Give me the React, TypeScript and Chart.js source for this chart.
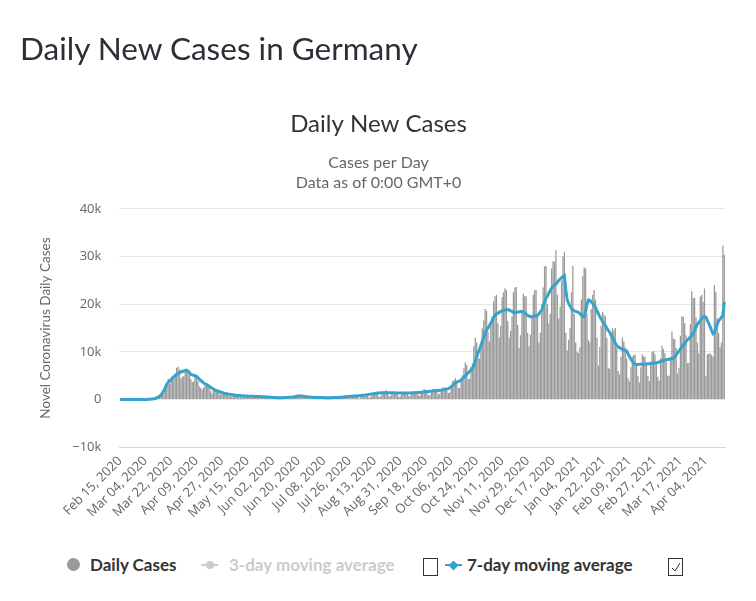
import React, { useEffect, useRef } from 'react';
import { Chart, registerables } from 'chart.js';

Chart.register(...registerables);

// Daily categories: Feb 15, 2020 .. Apr 17, 2021
const START_YEAR = 2020;
const START_MONTH = 1; // February (0-based)
const START_DAY = 15;
const MONTHS = ['Jan', 'Feb', 'Mar', 'Apr', 'May', 'Jun', 'Jul', 'Aug', 'Sep', 'Oct', 'Nov', 'Dec'];
const TICK_EVERY = 18;

// Daily new cases (one row per week, Saturday first)
const dailyCases = [
  0, 0, 0, 0, 0, 0, 0,
  0, 0, 0, 2, 10, 19, 2,
  22, 70, 28, 46, 50, 107, 256,
  130, 166, 130, 248, 409, 800, 693,
  900, 1000, 1200, 1500, 2800, 2900, 4400,
  3300, 4200, 4100, 4400, 5500, 6700, 6900,
  6300, 4400, 4800, 4900, 6000, 6500, 6200,
  5300, 4300, 3700, 3800, 5000, 4900, 3900,
  2800, 2500, 2100, 2500, 2900, 3400, 3100,
  2500, 1800, 1300, 1800, 2200, 2300, 2000,
  1500, 1000, 1200, 1300, 1500, 1600, 1200,
  900, 700, 700, 1100, 1200, 1100, 900,
  700, 500, 600, 900, 800, 900, 600,
  580, 350, 400, 600, 750, 460, 640,
  430, 300, 400, 360, 500, 740, 620,
  330, 220, 220, 340, 400, 500, 400,
  300, 150, 300, 320, 550, 560, 400,
  250, 200, 200, 350, 600, 770, 600,
  1000, 650, 500, 500, 600, 580, 480,
  400, 250, 300, 400, 500, 450, 400,
  350, 200, 300, 400, 450, 450, 400,
  350, 150, 250, 400, 550, 500, 500,
  400, 250, 350, 500, 600, 800, 800,
  750, 300, 350, 650, 900, 900, 950,
  800, 250, 500, 800, 900, 1100, 1100,
  1000, 450, 550, 1200, 1300, 1450, 1450,
  1400, 600, 700, 1350, 1500, 1700, 2000,
  1600, 800, 700, 1500, 1600, 1500, 1600,
  1400, 600, 700, 1200, 1400, 1500, 1600,
  1400, 800, 750, 1500, 1500, 1800, 1600,
  1500, 850, 900, 1400, 2000, 2200, 1900,
  1800, 900, 900, 1800, 2200, 2100, 2200,
  2100, 1100, 1300, 2000, 2600, 2500, 2600,
  1800, 1400, 1500, 2600, 3900, 4100, 4500,
  3200, 2500, 2400, 4100, 5100, 6600, 7800,
  7200, 4300, 4400, 6900, 7600, 11200, 13000,
  12000, 8700, 8600, 11400, 14900, 16600, 19000,
  18600, 14200, 12200, 15300, 17500, 20600, 21700,
  22000, 16000, 13000, 15500, 21500, 22500, 23300,
  23000, 16500, 13000, 14400, 17500, 22500, 23500,
  23600, 15700, 10900, 13500, 18600, 22200, 21700,
  21700, 14000, 11200, 13600, 17200, 22000, 23000,
  23000, 17700, 12000, 14000, 20000, 23500, 27900,
  28000, 20000, 16000, 18000, 27500, 29000, 28900,
  31300, 22000, 17000, 19500, 25000, 30000, 31000,
  14000, 10300, 12500, 15000, 22500, 28000, 18000,
  12000, 10000, 9800, 11000, 21000, 26000, 27700,
  27500, 18000, 12500, 12000, 19000, 22000, 23000,
  21000, 13000, 7100, 11000, 15500, 18400, 17800,
  17500, 13000, 6700, 6400, 13500, 15000, 14500,
  15000, 10800, 6000, 5300, 9000, 13000, 12200,
  11000, 8600, 4500, 3800, 6800, 9000, 9400,
  9400, 7200, 5000, 3600, 6800, 9500, 9100,
  9000, 7700, 5000, 3900, 8000, 10000, 10200,
  9500, 7600, 4800, 4000, 8700, 11300, 10600,
  9800, 8000, 5000, 5000, 9000, 14300, 12800,
  12600, 10800, 5500, 6700, 13400, 17500, 17400,
  16000, 13500, 7600, 7700, 15800, 22700, 21300,
  21300, 17200, 12000, 9700, 21600, 22000, 20500,
  23300, 5000, 9500, 9600, 9700, 9400, 9000,
  24000, 22600, 17000, 14000, 11000, 12000, 32300,
  30400,
];

// 7-day moving average
const movingAvg7 = [
  0, 0, 0, 0, 0, 0, 0,
  0, 0, 0, 0, 2, 5, 5,
  8, 18, 22, 28, 30, 45, 80,
  95, 110, 125, 155, 220, 350, 500,
  700, 1000, 1400, 1900, 2500, 3200, 3600,
  3900, 4200, 4500, 4800, 5000, 5300, 5500,
  5600, 5800, 5900, 6000, 6100, 6100, 6000,
  5700, 5300, 5200, 5100, 5000, 4900, 4600,
  4300, 4000, 3800, 3500, 3300, 3200, 3000,
  2800, 2600, 2400, 2200, 2000, 1900, 1800,
  1700, 1600, 1500, 1400, 1300, 1250, 1200,
  1150, 1100, 1050, 1000, 950, 900, 880,
  860, 840, 820, 800, 780, 760, 740,
  720, 700, 690, 680, 670, 660, 650,
  640, 630, 620, 600, 580, 560, 540,
  520, 500, 480, 460, 440, 420, 400,
  390, 380, 380, 400, 420, 440, 460,
  480, 500, 520, 540, 580, 640, 700,
  760, 780, 760, 720, 680, 640, 600,
  560, 530, 500, 480, 460, 450, 440,
  440, 430, 420, 420, 410, 410, 400,
  400, 400, 410, 420, 430, 440, 450,
  460, 480, 500, 520, 550, 580, 610,
  640, 670, 700, 720, 740, 760, 780,
  800, 830, 860, 900, 930, 960, 1000,
  1050, 1100, 1150, 1200, 1250, 1300, 1350,
  1380, 1400, 1420, 1440, 1450, 1460, 1460,
  1460, 1450, 1450, 1440, 1430, 1420, 1410,
  1400, 1400, 1390, 1380, 1380, 1370, 1380,
  1390, 1400, 1410, 1420, 1430, 1440, 1450,
  1470, 1490, 1510, 1540, 1570, 1610, 1650,
  1690, 1720, 1750, 1780, 1810, 1840, 1870,
  1900, 1930, 1960, 1990, 2020, 2050, 2100,
  2200, 2300, 2500, 2700, 2950, 3200, 3450,
  3650, 3800, 3900, 4100, 4400, 4700, 5000,
  5300, 5600, 5900, 6200, 6500, 7200, 8000,
  8900, 9800, 10500, 11400, 12200, 13000, 13900,
  14500, 15000, 15500, 16000, 16600, 17200, 17700,
  18000, 18100, 18300, 18500, 18600, 18700, 18800,
  18800, 18900, 18800, 18600, 18500, 18300, 18200,
  18300, 18400, 18400, 18500, 18500, 18400, 18200,
  17900, 17700, 17500, 17400, 17400, 17500, 17600,
  17500, 17700, 18000, 18400, 18800, 19600, 20500,
  21200, 21700, 22300, 22900, 23400, 23800, 24100,
  24200, 24600, 25000, 25300, 25600, 25800, 26000,
  23000, 20900, 20200, 19600, 19100, 18800, 18600,
  18500, 18400, 18300, 18000, 17700, 17500, 17400,
  18500, 20000, 20900, 20800, 20500, 20200, 19900,
  19300, 18600, 18000, 17400, 16900, 16400, 15900,
  15500, 15000, 14500, 14100, 13600, 13000, 12400,
  11900, 11300, 11100, 10900, 10700, 10500, 10400,
  10300, 10200, 9600, 9000, 8500, 8000, 7600,
  7400, 7350, 7350, 7400, 7400, 7400, 7400,
  7400, 7450, 7500, 7500, 7550, 7600, 7600,
  7700, 7750, 7800, 7900, 8000, 8100, 8200,
  8300, 8350, 8400, 8450, 8500, 8550, 8700,
  9000, 9400, 9800, 10200, 10600, 11000, 11400,
  11800, 12200, 12500, 12800, 13100, 13500, 13900,
  14500, 15200, 15800, 16200, 16600, 17000, 17300,
  17400, 17300, 16600, 16000, 15300, 14500, 13800,
  14000, 14900, 15800, 16500, 16900, 17300, 17600,
  20500,
];

const Y_MIN = -10000;
const Y_MAX = 40000;
const Y_STEP = 10000;

function dateLabel(i: number): string {
  const d = new Date(Date.UTC(START_YEAR, START_MONTH, START_DAY + i));
  const dd = String(d.getUTCDate()).padStart(2, '0');
  return `${MONTHS[d.getUTCMonth()]} ${dd}, ${d.getUTCFullYear()}`;
}

const categories: string[] = dailyCases.map((_, i) => dateLabel(i));

const TITLE_FONT = 'Lato, "Open Sans", sans-serif';
const AXIS_FONT = '"Open Sans", "DejaVu Sans", sans-serif';

export default function App() {
  const ref = useRef<HTMLCanvasElement | null>(null);

  useEffect(() => {
    if (!ref.current) return;
    const chart = new Chart(ref.current, {
      data: {
        labels: categories,
        datasets: [
          {
            type: 'line',
            label: '7-day moving average',
            data: movingAvg7,
            borderColor: '#35a3cc',
            backgroundColor: '#35a3cc',
            borderWidth: 3,
            pointRadius: 0,
            tension: 0,
            order: 0,
          },
          {
            type: 'bar',
            label: 'Daily Cases',
            data: dailyCases,
            backgroundColor: '#999999',
            barPercentage: 0.9,
            categoryPercentage: 1,
            order: 1,
          },
        ],
      } as any,
      options: {
        animation: false,
        responsive: false,
        maintainAspectRatio: false,
        layout: { padding: { left: 24, right: 23, top: 0, bottom: 21 } },
        plugins: {
          legend: { display: false },
          tooltip: { enabled: false },
          title: {
            display: true,
            text: 'Daily New Cases',
            color: '#333333',
            font: { family: TITLE_FONT, size: 24, weight: 'normal' },
            padding: { top: 102, bottom: 15 },
          },
          subtitle: {
            display: true,
            text: ['Cases per Day', 'Data as of 0:00 GMT+0'],
            color: '#666666',
            font: { family: TITLE_FONT, size: 16, lineHeight: 1.19 },
            padding: { top: 0, bottom: 17 },
          },
        },
        scales: {
          x: {
            grid: { display: false, drawTicks: false },
            border: { display: true, color: '#ccd6eb', width: 1 },
            ticks: {
              autoSkip: false,
              minRotation: 45,
              maxRotation: 45,
              color: '#666666',
              padding: 6,
              font: { family: AXIS_FONT, size: 13 },
              callback: (_v: any, i: number) => (i % TICK_EVERY === 0 ? categories[i] : ''),
            },
          },
          y: {
            min: Y_MIN,
            max: Y_MAX,
            grid: { color: '#e6e6e6', drawTicks: false },
            border: { display: false },
            ticks: {
              stepSize: Y_STEP,
              color: '#666666',
              padding: 18,
              font: { family: AXIS_FONT, size: 13 },
              callback: (v: any) => {
                const n = Number(v);
                if (n === 0) return '0';
                return (n < 0 ? '\u2212' : '') + Math.abs(n / 1000) + 'k';
              },
            },
            title: {
              display: true,
              text: 'Novel Coronavirus Daily Cases',
              color: '#666666',
              font: { family: TITLE_FONT, size: 13.5 },
              padding: { top: 6, bottom: 0 },
            },
          },
        },
      } as any,
    });
    return () => chart.destroy();
  }, []);

  const legendText: React.CSSProperties = {
    position: 'absolute',
    top: 547,
    height: 20,
    lineHeight: '20px',
    fontFamily: TITLE_FONT,
    fontWeight: 'bold',
    fontSize: 17,
    whiteSpace: 'nowrap',
  };
  const box: React.CSSProperties = {
    position: 'absolute',
    top: 550,
    width: 13,
    height: 16,
    border: '1px solid #333',
    background: '#fff',
  };

  return (
    <div style={{ position: 'relative', width: 740, height: 585, fontFamily: TITLE_FONT }}>
      <canvas ref={ref} width={740} height={540} style={{ position: 'absolute', left: 0, top: 0, width: 740, height: 540 }} />
      <div
        style={{
          position: 'absolute',
          left: 12,
          top: 22,
          fontSize: 31.5,
          lineHeight: '36px',
          color: '#2e2e38',
          fontFamily: TITLE_FONT,
          whiteSpace: 'nowrap',
        }}
      >
        Daily New Cases in Germany
      </div>
      {/* Legend */}
      <div style={{ position: 'absolute', left: 59, top: 550, width: 13, height: 13, borderRadius: '50%', background: '#999999' }} />
      <div style={{ ...legendText, left: 82, color: '#333333' }}>Daily Cases</div>
      <div style={{ position: 'absolute', left: 193, top: 556, width: 17, height: 2, background: '#cccccc' }} />
      <div style={{ position: 'absolute', left: 197.5, top: 553, width: 8, height: 8, borderRadius: '50%', background: '#cccccc' }} />
      <div style={{ ...legendText, left: 221, color: '#cccccc' }}>3-day moving average</div>
      <div style={{ ...box, left: 415 }} />
      <div style={{ position: 'absolute', left: 437, top: 556, width: 17, height: 2, background: '#35a3cc' }} />
      <div style={{ position: 'absolute', left: 442, top: 553.5, width: 7, height: 7, transform: 'rotate(45deg)', background: '#35a3cc' }} />
      <div style={{ ...legendText, left: 459, color: '#333333' }}>7-day moving average</div>
      <div style={{ ...box, left: 660 }}>
        <svg width={13} height={16} style={{ position: 'absolute', left: 0, top: 0 }}>
          <polyline points="3,9 6,12 11,4" fill="none" stroke="#333" strokeWidth={1} />
        </svg>
      </div>
    </div>
  );
}
